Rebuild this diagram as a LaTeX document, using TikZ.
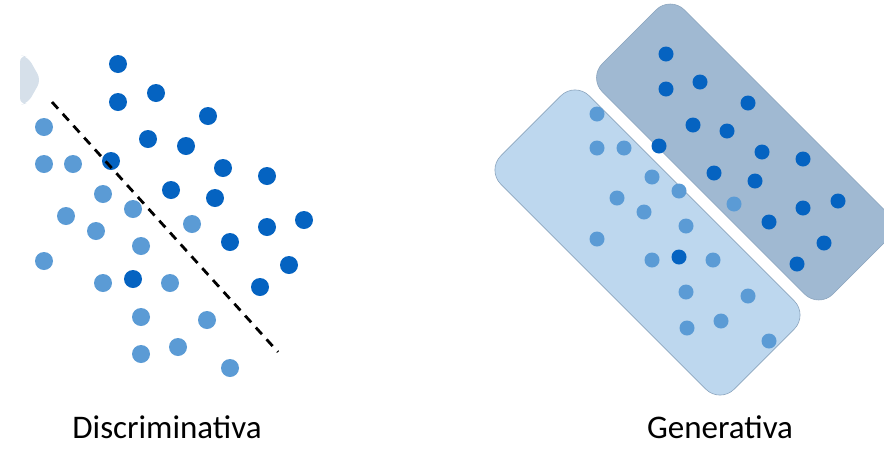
\documentclass[tikz,border=0pt]{standalone}
\usepackage{fontspec}
\setmainfont{Carlito}
\definecolor{darkdot}{RGB}{5,99,193}
\definecolor{lightdot}{RGB}{91,155,213}
\definecolor{lightbox}{RGB}{189,215,238}
\definecolor{darkbox}{RGB}{160,185,210}
\definecolor{boxline}{RGB}{140,165,190}
\begin{document}
\begin{tikzpicture}[x=1pt,y=-1pt,
    cls/.style={rectangle,rounded corners=20pt,rotate=-45,draw=boxline,line width=.6pt,inner sep=0pt},
    lbl/.style={anchor=base,font=\fontsize{33}{40}\selectfont}]
    \useasboundingbox (0,0) rectangle (884,448);
    % left: discriminative boundary
    \fill[rounded corners=7pt,fill={rgb,255:red,214;green,224;blue,234}](20,55)--(28,57)--(41,80)--(28,103)--(20,105)--cycle;
    \foreach \x/\y in {44/127,44/164,73/164,103/194,133/209,66/216,192/224,96/231,141/246,44/261,103/283,170/283,141/317,207/320,141/354,178/347,230/368}
        \fill[lightdot](\x,\y)circle(9pt);
    \foreach \x/\y in {118/64,118/102,156/93,208/116,148/139,186/146,111/161,223/168,267/176,171/190,215/198,304/220,267/227,230/242,289/265,133/279,260/287}
        \fill[darkdot](\x,\y)circle(9pt);
    \coordinate (lineA) at (52,102);
    \coordinate (lineB) at (278,352);
    \draw[line width=2.8pt,dash pattern=on 9pt off 7pt](lineA)--(lineB);
    % right: one region per class
    \node[cls,fill=lightbox,minimum width=330pt,minimum height=125pt](boxL) at (647.5,242.5){};
    \node[cls,fill=darkbox,minimum width=326pt,minimum height=116pt](boxD) at (744.5,152){};
    \foreach \x/\y in {597/114,597/148,624/148,652/177,679/191,617/198,644/212,734/204,686/226,597/239,652/260,713/260,686/292,748/296,687/328,721/321,769/341}
        \fill[lightdot](\x,\y)circle(7.5pt);
    \foreach \x/\y in {666/54,666/89,700/82,748/103,693/125,727/131,659/146,762/152,803/159,714/173,755/181,838/201,803/208,769/222,824/243,797/264,679/257}
        \fill[darkdot](\x,\y)circle(7.5pt);
    \node[lbl](disc) at (167,438){Discriminativa};
    \node[lbl](gen) at (720,438){Generativa};
\end{tikzpicture}
\end{document}
